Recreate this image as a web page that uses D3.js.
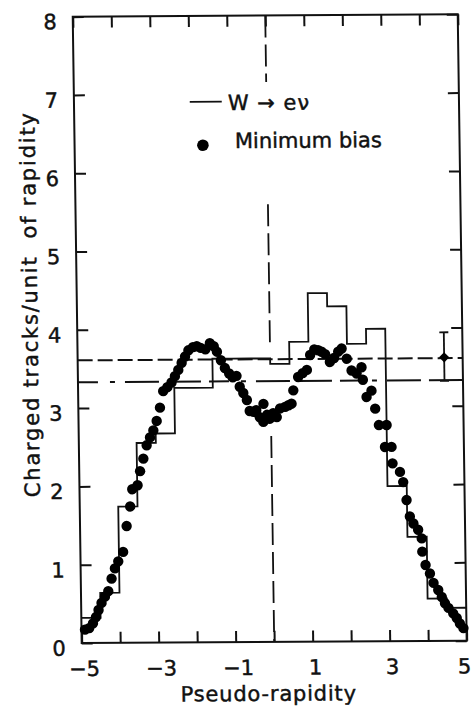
<!DOCTYPE html>
<html>
<head>
<meta charset="utf-8">
<script src="https://cdn.jsdelivr.net/npm/d3@7"></script>
<style>
    body { margin: 0; background: #fff; }
    text { font-family: "DejaVu Sans", sans-serif; fill: #111; stroke: #111; stroke-width: 0.45px; }
</style>
</head>
<body>
<div id="chart"></div>
<script>
    // W -> e nu histogram: bin edges and heights
    var binEdges = [-5, -4.5, -4, -3.5, -3, -2.5, -2, -1.5, -1, -0.5, 0,
                    0.5, 1, 1.5, 2, 2.5, 3, 3.5, 4, 4.5, 5];
    var wHeights = [0.32, 0.64, 1.74, 2.55, 2.67, 3.25, 3.25, 3.62, 3.62, 3.62,
                    3.55, 3.83, 4.45, 4.28, 3.80, 3.99, 1.98, 1.33, 0.54, 0.42];

    // minimum bias points
    var mbEta = [-4.91, -4.80, -4.70, -4.62, -4.55, -4.47, -4.38, -4.29, -4.20, -4.11,
                 -4.02, -3.89, -3.79, -3.69, -3.63, -3.49, -3.42, -3.33, -3.24, -3.15,
                 -3.06, -2.97, -2.88, -2.79, -2.68, -2.57, -2.48, -2.39, -2.30, -2.21,
                 -2.12, -2.00, -1.90, -1.80, -1.68, -1.56, -1.46, -1.38, -1.28, -1.18,
                 -1.07, -0.98, -0.88, -0.80, -0.71, -0.62, -0.55, -0.45, -0.38, -0.29,
                 -0.19, -0.20, -0.10, -0.03, 0.06, 0.15, 0.24, 0.37, 0.46, 0.54,
                 0.59, 0.72, 0.84, 0.95, 1.04, 1.15, 1.25, 1.34, 1.43, 1.55,
                 1.66, 1.77, 1.86, 1.99, 2.11, 2.24, 2.37, 2.40, 2.49, 2.62,
                 2.71, 2.80, 2.95, 3.00, 3.12, 3.14, 3.33, 3.41, 3.49, 3.57,
                 3.66, 3.78, 3.87, 3.88, 3.96, 4.07, 4.16, 4.28, 4.37, 4.45,
                 4.54, 4.66, 4.75, 4.83, 4.92];
    var mbDens = [0.17, 0.19, 0.25, 0.33, 0.42, 0.51, 0.59, 0.66, 0.82, 0.95,
                  1.04, 1.16, 1.49, 1.74, 1.96, 2.01, 2.19, 2.35, 2.52, 2.62,
                  2.71, 2.83, 3.00, 3.21, 3.26, 3.32, 3.40, 3.48, 3.57, 3.65,
                  3.73, 3.77, 3.78, 3.76, 3.74, 3.82, 3.78, 3.71, 3.60, 3.50,
                  3.43, 3.38, 3.40, 3.26, 3.18, 3.09, 2.95, 2.94, 2.96, 2.87,
                  3.04, 2.81, 2.90, 2.85, 2.92, 2.87, 2.98, 3.00, 3.02, 3.04,
                  3.21, 3.38, 3.43, 3.47, 3.66, 3.73, 3.72, 3.70, 3.67, 3.57,
                  3.62, 3.70, 3.74, 3.61, 3.46, 3.42, 3.50, 3.34, 3.12, 3.20,
                  2.97, 2.76, 2.48, 2.76, 2.48, 2.27, 2.16, 2.03, 1.80, 1.59,
                  1.50, 1.42, 1.31, 1.14, 0.97, 0.86, 0.74, 0.65, 0.56, 0.48,
                  0.42, 0.35, 0.29, 0.22, 0.16];

    // horizontal reference levels
    var levelMB = 3.61,
        levelW = 3.33;

    // error bar shown at the right
    var errEta = 4.52, errVal = 3.62, errLo = 3.32, errHi = 3.94;

    // dashed line at eta = 0, drawn in pieces (from, to)
    var cutPieces = [[8, 7.15], [5.59, 3.81], [2.63, 0]];

    var xTicks = [-5, -4, -3, -2, -1, 0, 1, 2, 3, 4, 5],
        xLabels = [-5, -3, -1, 1, 3, 5],
        yTicks = [0, 1, 2, 3, 4, 5, 6, 7, 8];

    var marg_t = 16.6,
        marg_l = 81.7,
        width = 385,
        height = 626.4;

    var svg = d3.select("#chart")
        .append("svg")
            .attr("width", 472)
            .attr("height", 708);

    // the scanned figure is slightly skewed
    var page = svg.append("g")
        .attr("transform", "rotate(-0.35,81.7,643) translate(0,643) skewX(0.47) translate(0,-643)");

    var plot = page.append("g")
        .attr("transform", "translate(" + marg_l + "," + marg_t + ")");

    var x = d3.scaleLinear().domain([-5, 5]).range([0, width]);
    var y = d3.scaleLinear().domain([0, 8]).range([height, 0]);

    var fmt = d3.format("d");

    // axes, ticks pointing inwards
    var bottom = plot.append("g")
        .attr("transform", "translate(0," + height + ")")
        .call(d3.axisBottom(x).tickValues(xTicks).tickSize(-11).tickPadding(18)
            .tickFormat(function(d) { return xLabels.indexOf(d) >= 0 ? fmt(d) : ""; }));
    bottom.selectAll("text")
        .attr("dx", function(d) { return d === 5 ? -3 : 2; });

    var left = plot.append("g")
        .call(d3.axisLeft(y).tickValues(yTicks).tickSize(-11).tickPadding(16).tickFormat(fmt));
    left.selectAll("text").attr("dy", 12);

    plot.append("g")
        .call(d3.axisTop(x).tickValues(xTicks).tickSize(-11).tickFormat(""));
    plot.append("g")
        .attr("transform", "translate(" + width + ",0)")
        .call(d3.axisRight(y).tickValues(yTicks).tickSize(-11).tickFormat(""));

    plot.selectAll(".domain").remove();
    plot.selectAll(".tick line").attr("stroke", "#111").attr("stroke-width", 2);
    plot.selectAll(".tick text")
        .attr("fill", "#111")
        .style("font-family", "'DejaVu Sans', sans-serif")
        .style("font-size", "21px");

    plot.append("rect")
        .attr("x", x(-5)).attr("y", y(8))
        .attr("width", x(5) - x(-5)).attr("height", y(0) - y(8))
        .attr("fill", "none")
        .attr("stroke", "#111")
        .attr("stroke-width", 2);

    // dashed reference lines
    plot.append("line")
        .attr("x1", x(-5)).attr("x2", x(5))
        .attr("y1", y(levelMB)).attr("y2", y(levelMB))
        .attr("stroke", "#111").attr("stroke-width", 2)
        .attr("stroke-dasharray", "15,5");
    plot.append("line")
        .attr("x1", x(-5)).attr("x2", x(5))
        .attr("y1", y(levelW)).attr("y2", y(levelW))
        .attr("stroke", "#111").attr("stroke-width", 2)
        .attr("stroke-dasharray", "20,12,5,10,34,8,34,8");

    plot.selectAll(".cut")
        .data(cutPieces)
        .enter().append("line")
            .attr("class", "cut")
            .attr("x1", x(0)).attr("x2", x(0))
            .attr("y1", function(d) { return y(d[0]); })
            .attr("y2", function(d) { return y(d[1]); })
            .attr("stroke", "#111").attr("stroke-width", 1.8)
            .attr("stroke-dasharray", "22,7");

    // histogram
    var histPts = wHeights.map(function(h, i) { return [binEdges[i], h]; });
    histPts.push([binEdges[binEdges.length - 1], wHeights[wHeights.length - 1]]);
    plot.append("path")
        .datum(histPts)
        .attr("fill", "none")
        .attr("stroke", "#111")
        .attr("stroke-width", 1.8)
        .attr("d", d3.line()
            .curve(d3.curveStepAfter)
            .x(function(d) { return x(d[0]); })
            .y(function(d) { return y(d[1]); }));

    // minimum bias dots
    plot.selectAll(".mb")
        .data(mbEta)
        .enter().append("circle")
            .attr("class", "mb")
            .attr("cx", function(d) { return x(d); })
            .attr("cy", function(d, i) { return y(mbDens[i]); })
            .attr("r", 5.2)
            .attr("fill", "#000");

    // error bar
    var cap = 4.5;
    plot.append("line")
        .attr("x1", x(errEta)).attr("x2", x(errEta))
        .attr("y1", y(errLo)).attr("y2", y(errHi))
        .attr("stroke", "#111").attr("stroke-width", 1.8);
    [errLo, errHi].forEach(function(v) {
        plot.append("line")
            .attr("x1", x(errEta) - cap).attr("x2", x(errEta) + cap)
            .attr("y1", y(v)).attr("y2", y(v))
            .attr("stroke", "#111").attr("stroke-width", 1.8);
    });
    plot.append("path")
        .attr("d", d3.symbol().type(d3.symbolSquare).size(52)())
        .attr("transform", "translate(" + x(errEta) + "," + y(errVal) + ")rotate(45)")
        .attr("fill", "#000");

    // legend
    page.append("line")
        .attr("x1", 197.5).attr("x2", 229.5)
        .attr("y1", 102.5).attr("y2", 102.5)
        .attr("stroke", "#111").attr("stroke-width", 1.8);
    page.append("text")
        .attr("x", 235.5).attr("y", 111)
        .style("font-size", "21px")
        .style("letter-spacing", "1px")
        .text("W \u2192 e\u03bd");
    page.append("circle")
        .attr("cx", 210).attr("cy", 146).attr("r", 5.8)
        .attr("fill", "#000");
    page.append("text")
        .attr("x", 242).attr("y", 149)
        .style("font-size", "21px")
        .text("Minimum bias");

    // axis titles
    page.append("text")
        .attr("x", 268).attr("y", 702)
        .style("text-anchor", "middle")
        .style("font-size", "21px")
        .style("letter-spacing", "0.8px")
        .text("Pseudo-rapidity");

    page.append("text")
        .attr("transform", "translate(42,304)rotate(-90)")
        .style("text-anchor", "middle")
        .style("font-size", "21px")
        .style("letter-spacing", "1.8px")
        .text("Charged tracks/unit\u00a0 of rapidity");
</script>
</body>
</html>
